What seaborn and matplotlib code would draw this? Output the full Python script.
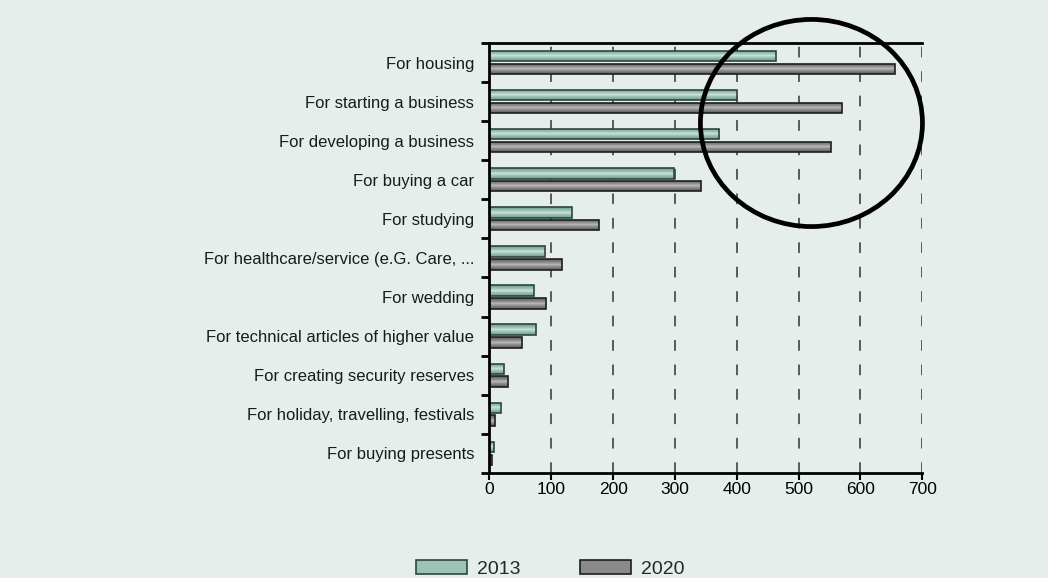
import pandas as pd
import matplotlib.pyplot as plt
import matplotlib.colors as mcolors
import seaborn as sns
import numpy as np
from matplotlib.patches import Ellipse, Patch

###############################################################################
#data
categories = ["For housing", "For starting a business", "For developing a business",
              "For buying a car", "For studying", "For healthcare/service (e.G. Care, ...",
              "For wedding", "For technical articles of higher value",
              "For creating security reserves", "For holiday, travelling, festivals",
              "For buying presents"]
values_2013 = [464, 400, 372, 298, 133, 90, 72, 76, 23, 18, 7]
values_2020 = [656, 570, 552, 342, 177, 117, 91, 52, 30, 9, 4]
years = ["2013", "2020"]
xticks = [0, 100, 200, 300, 400, 500, 600, 700]

df = pd.DataFrame({
    "category": categories * 2,
    "value": values_2013 + values_2020,
    "year": [years[0]] * len(categories) + [years[1]] * len(categories),
})

###############################################################################
bg = "#e5eeeb"
colors = {"2013": "#9cc3b3", "2020": "#8a8a8a"}
edges = {"2013": "#2c463e", "2020": "#1e1e1e"}
#gradient (edge colour, centre colour) for the bar fill
grads = {"2013": ("#6a9e8c", "#d6e9e1"), "2020": ("#5c5c5c", "#c2c2c2")}

sns.set_style("white")
plt.rcParams['font.family'] = ['Liberation Sans', 'DejaVu Sans']

fig = plt.figure(figsize=(10.48, 5.78), dpi=100, facecolor=bg)
ax = fig.add_axes([0.467, 0.182, 0.413, 0.7435])
ax.set_facecolor(bg)

sns.barplot(data=df, x="value", y="category", hue="year", order=categories,
            hue_order=years, palette=colors, width=0.66, gap=0.2,
            orient="h", legend=False, ax=ax, linewidth=1.2, edgecolor="#222222")

#gradient fill inside each bar
t = np.linspace(0, 1, 64)
shape = np.abs(2 * t - 1) ** 0.7  # 1 at edges, 0 at centre
for container, yr in zip(ax.containers, years):
    cmap = mcolors.LinearSegmentedColormap.from_list(yr, [grads[yr][1], grads[yr][0]])
    for bar in container:
        bar.set_edgecolor(edges[yr])
        bar.set_facecolor("none")
        bar.set_zorder(2)
        x0, y0 = bar.get_x(), bar.get_y()
        w, h = bar.get_width(), bar.get_height()
        im = ax.imshow(shape[:, None], cmap=cmap, vmin=0, vmax=1, aspect="auto",
                       extent=(x0, x0 + w, y0 + h, y0), zorder=1.5,
                       interpolation="bilinear")
        im.set_clip_path(bar)

ax.set_xlim(0, 700)
ax.set_ylim(len(categories) - 0.5, -0.5)
ax.set_aspect("auto")
ax.set_xticks(xticks)
ax.set_xlabel("")
ax.set_ylabel("")

# dashed vertical grid
for xv in xticks[1:]:
    ax.axvline(xv, color="#333333", lw=1.1, ls=(0, (7, 9)), zorder=0.5)

for s in ["top", "left", "bottom"]:
    ax.spines[s].set_visible(True)
    ax.spines[s].set_color("black")
    ax.spines[s].set_linewidth(2)
ax.spines["right"].set_visible(False)

ax.tick_params(axis="x", direction="out", length=5, width=1.5, colors="black",
               labelsize=12.5, pad=1.5, bottom=True)
ax.tick_params(axis="y", which="major", length=0, labelsize=12, pad=11,
               labelcolor="#1a1a1a")
ax.set_yticks(np.arange(len(categories) + 1) - 0.5, minor=True)
ax.tick_params(axis="y", which="minor", direction="out", length=6, width=2,
               color="black", left=True)

# highlight circle
circle = Ellipse((0.744, 0.814), 0.513, 0.482, transform=ax.transAxes,
                 fill=False, lw=3.4, edgecolor="black", clip_on=False, zorder=5)
ax.add_patch(circle)

# legend at bottom
handles = [Patch(facecolor=colors[y], edgecolor=edges[y], linewidth=1.2, label=y)
           for y in years]
fig.legend(handles=handles, loc="lower center", bbox_to_anchor=(0.525, -0.03), ncol=2,
           frameon=False, handlelength=2.6, handleheight=0.75,
           columnspacing=3.1, handletextpad=0.5, prop={"size": 14})

fig.savefig("out.png", dpi=100, facecolor=bg)
